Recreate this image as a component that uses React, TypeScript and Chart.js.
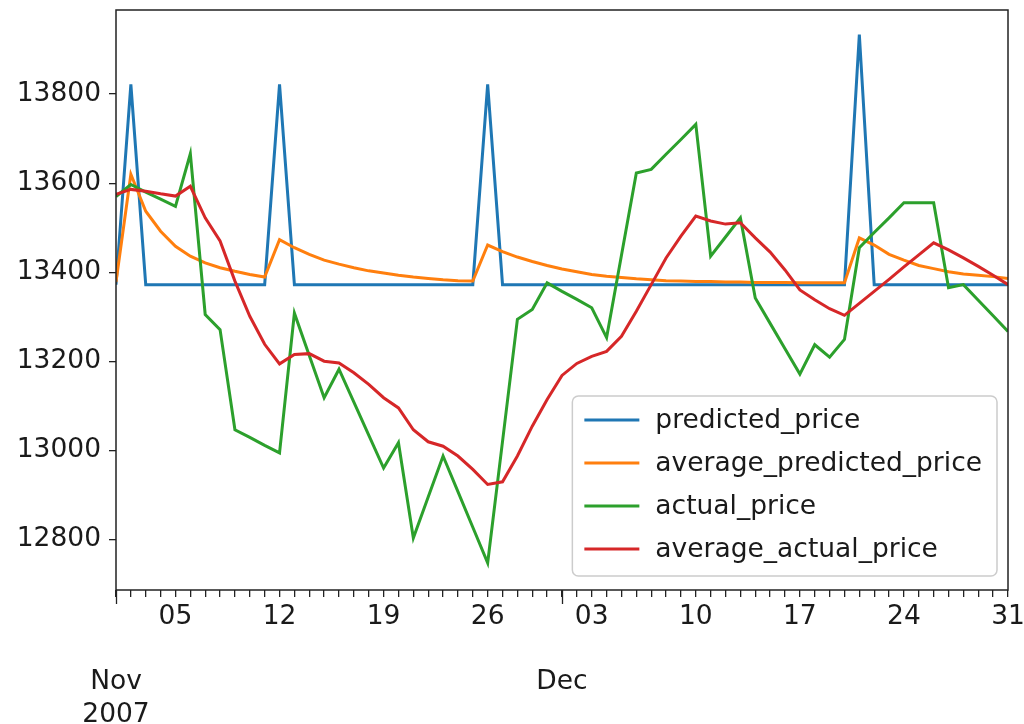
import React, { useEffect, useRef } from 'react';
import { Chart, registerables } from 'chart.js';

Chart.register(...registerables);

// Calendar days 2007-11-01 .. 2007-12-31 (one value per day)
const startDate = '2007-11-01';
const endDate = '2007-12-31';

const predictedPrice = [
  13372, 13822, 13372, 13372, 13372, 13372, 13372, 13372, 13372, 13372,
  13372, 13822, 13372, 13372, 13372, 13372, 13372, 13372, 13372, 13372,
  13372, 13372, 13372, 13372, 13372, 13822, 13372, 13372, 13372, 13372,
  13372, 13372, 13372, 13372, 13372, 13372, 13372, 13372, 13372, 13372,
  13372, 13372, 13372, 13372, 13372, 13372, 13372, 13372, 13372, 13372,
  13934, 13372, 13372, 13372, 13372, 13372, 13372, 13372, 13372, 13372,
  13372,
];

const averagePredictedPrice = [
  13378, 13620, 13537, 13492, 13458, 13436, 13421, 13410, 13402, 13395,
  13389, 13473, 13455, 13440, 13427, 13418, 13410, 13403, 13398, 13393,
  13389, 13386, 13383, 13381, 13380, 13461, 13446, 13434, 13424, 13415,
  13407, 13401, 13395, 13391, 13388, 13385, 13383, 13381, 13380, 13379,
  13379, 13378, 13378, 13377, 13377, 13377, 13376, 13376, 13376, 13376,
  13477, 13461, 13440, 13427, 13415, 13408, 13401, 13396, 13393, 13390,
  13386,
];

const actualPrice = [
  13570, 13597, 13580, 13564, 13548, 13666, 13305, 13271, 13046, 13029,
  13011, 12994, 13308, 13213, 13118, 13182, 13108, 13034, 12960, 13017,
  12803, 12895, 12987, 12907, 12827, 12747, 13020, 13294, 13316, 13376,
  13357, 13339, 13320, 13253, 13438, 13623, 13631, 13665, 13698, 13732,
  13436, 13479, 13522, 13342, 13285, 13228, 13171, 13237, 13209, 13249,
  13455, 13489, 13522, 13556, 13556, 13556, 13365, 13372, 13337, 13302,
  13267,
];

const averageActualPrice = [
  13575, 13586, 13582, 13576, 13571, 13593, 13522, 13470, 13380, 13301,
  13238, 13194, 13215, 13217, 13200, 13196, 13174, 13148, 13118, 13095,
  13046, 13019, 13009, 12987, 12957, 12923, 12929, 12987, 13054, 13114,
  13168, 13195, 13211, 13222, 13256, 13312, 13372, 13432, 13481, 13526,
  13515, 13508, 13511, 13477, 13445, 13405, 13360, 13338, 13318, 13303,
  13330, 13357, 13384, 13412, 13439, 13466, 13450, 13432, 13413, 13393,
  13372,
];

const seriesNames = ['predicted_price', 'average_predicted_price', 'actual_price', 'average_actual_price'];
const seriesColors = ['#1f77b4', '#ff7f0e', '#2ca02c', '#d62728'];

const dayTickDates = ['2007-11-05', '2007-11-12', '2007-11-19', '2007-11-26', '2007-12-03', '2007-12-10', '2007-12-17', '2007-12-24', '2007-12-31'];
const dayTickTexts = ['05', '12', '19', '26', '03', '10', '17', '24', '31'];
const monthTickDates = ['2007-11-01', '2007-12-01'];
const monthTickTexts = [['Nov', '2007'], ['Dec']];

const yTicks = [12800, 13000, 13200, 13400, 13600, 13800];
const yMin = 12686;
const yMax = 13989;

const DAY = 86400000;
const dayOf = (iso: string) => Math.round((Date.parse(iso) - Date.parse(startDate)) / DAY);
const lastDay = dayOf(endDate);

const FONT = '"DejaVu Sans", sans-serif';
const FS = 26.5;
const TEXT = '#1a1a1a';

function labelFor(v: number): string | string[] {
  const di = dayTickDates.findIndex((d) => dayOf(d) === v);
  const mi = monthTickDates.findIndex((d) => dayOf(d) === v);
  if (mi >= 0) return ['', '', ...monthTickTexts[mi]];
  if (di >= 0) return dayTickTexts[di];
  return '';
}

const framePlugin = {
  id: 'frame',
  afterDraw(chart: any) {
    const { ctx, chartArea } = chart;
    const xs = chart.scales.x;
    ctx.save();
    ctx.strokeStyle = '#222';
    ctx.lineWidth = 1.5;
    ctx.strokeRect(chartArea.left, chartArea.top, chartArea.right - chartArea.left, chartArea.bottom - chartArea.top);
    ctx.lineWidth = 1.3;
    monthTickDates.forEach((d) => {
      const px = Math.round(xs.getPixelForValue(dayOf(d))) + 0.5;
      ctx.beginPath();
      ctx.moveTo(px, chartArea.bottom);
      ctx.lineTo(px, chartArea.bottom + 14);
      ctx.stroke();
    });
    ctx.restore();
  },
};

const legendPlugin = {
  id: 'innerLegend',
  afterDraw(chart: any) {
    const { ctx, chartArea } = chart;
    const ds = chart.data.datasets;
    ctx.save();
    ctx.font = `${FS}px ${FONT}`;
    const textW = Math.max(...ds.map((d: any) => ctx.measureText(d.label).width));
    const rowH = 43;
    const boxW = 83 + textW + 15;
    const boxH = 24 + (ds.length - 1) * rowH + 27;
    const x1 = chartArea.right - 11 - boxW;
    const y1 = chartArea.bottom - 14 - boxH;
    ctx.beginPath();
    ctx.roundRect(x1, y1, boxW, boxH, 6);
    ctx.fillStyle = 'rgba(255,255,255,0.8)';
    ctx.fill();
    ctx.strokeStyle = '#cccccc';
    ctx.lineWidth = 1.5;
    ctx.stroke();
    ds.forEach((d: any, i: number) => {
      const cy = y1 + 24 + i * rowH;
      ctx.beginPath();
      ctx.strokeStyle = d.borderColor;
      ctx.lineWidth = 3;
      ctx.moveTo(x1 + 12, cy);
      ctx.lineTo(x1 + 67, cy);
      ctx.stroke();
      ctx.fillStyle = TEXT;
      ctx.textBaseline = 'middle';
      ctx.textAlign = 'left';
      ctx.fillText(d.label, x1 + 83, cy + 1);
    });
    ctx.restore();
  },
};

export default function App() {
  const ref = useRef<HTMLCanvasElement | null>(null);

  useEffect(() => {
    if (!ref.current) return;
    const series = [predictedPrice, averagePredictedPrice, actualPrice, averageActualPrice];
    const orders = [3, 2, 1, 0];
    const datasets = series.map((vals, i) => ({
      label: seriesNames[i],
      data: vals.map((v, k) => ({ x: k, y: v })),
      borderColor: seriesColors[i],
      backgroundColor: seriesColors[i],
      borderWidth: 3,
      pointRadius: 0,
      tension: 0,
      fill: false,
      order: orders[i],
    }));
    const xTickValues: number[] = [];
    for (let d = 0; d <= lastDay; d++) xTickValues.push(d);

    const chart = new Chart(ref.current, {
      type: 'line',
      data: { datasets },
      options: {
        animation: false,
        responsive: false,
        devicePixelRatio: 1,
        layout: { padding: { top: 10, right: 16, left: 0, bottom: 0 } },
        plugins: { legend: { display: false }, tooltip: { enabled: false } },
        scales: {
          x: {
            type: 'linear',
            min: 0,
            max: lastDay,
            afterBuildTicks: (s: any) => {
              s.ticks = xTickValues.map((v) => ({ value: v }));
            },
            afterFit: (s: any) => {
              s.height = 134;
              s.paddingLeft = 0;
              s.paddingRight = 0;
            },
            ticks: {
              autoSkip: false,
              maxRotation: 0,
              minRotation: 0,
              padding: 4,
              color: TEXT,
              font: { family: FONT, size: FS, lineHeight: 1.23 },
              callback: (v: any) => labelFor(Number(v)),
            },
            grid: { drawOnChartArea: false, drawTicks: true, tickLength: 7, tickColor: '#222', lineWidth: 1.3 },
            border: { display: false },
          },
          y: {
            type: 'linear',
            min: yMin,
            max: yMax,
            afterBuildTicks: (s: any) => {
              s.ticks = yTicks.map((v) => ({ value: v }));
            },
            afterFit: (s: any) => {
              s.width = 116;
              s.paddingTop = 0;
              s.paddingBottom = 0;
            },
            ticks: {
              padding: 8,
              color: TEXT,
              font: { family: FONT, size: FS },
              callback: (v: any) => String(v),
            },
            grid: { drawOnChartArea: false, drawTicks: true, tickLength: 7, tickColor: '#222', lineWidth: 1.3 },
            border: { display: false },
          },
        },
      },
      plugins: [framePlugin, legendPlugin],
    } as any);
    return () => chart.destroy();
  }, []);

  return (
    <div style={{ position: 'absolute', left: 0, top: 0, width: 1024, height: 724, background: '#fff' }}>
      <canvas ref={ref} width={1024} height={724} style={{ display: 'block' }} />
    </div>
  );
}
